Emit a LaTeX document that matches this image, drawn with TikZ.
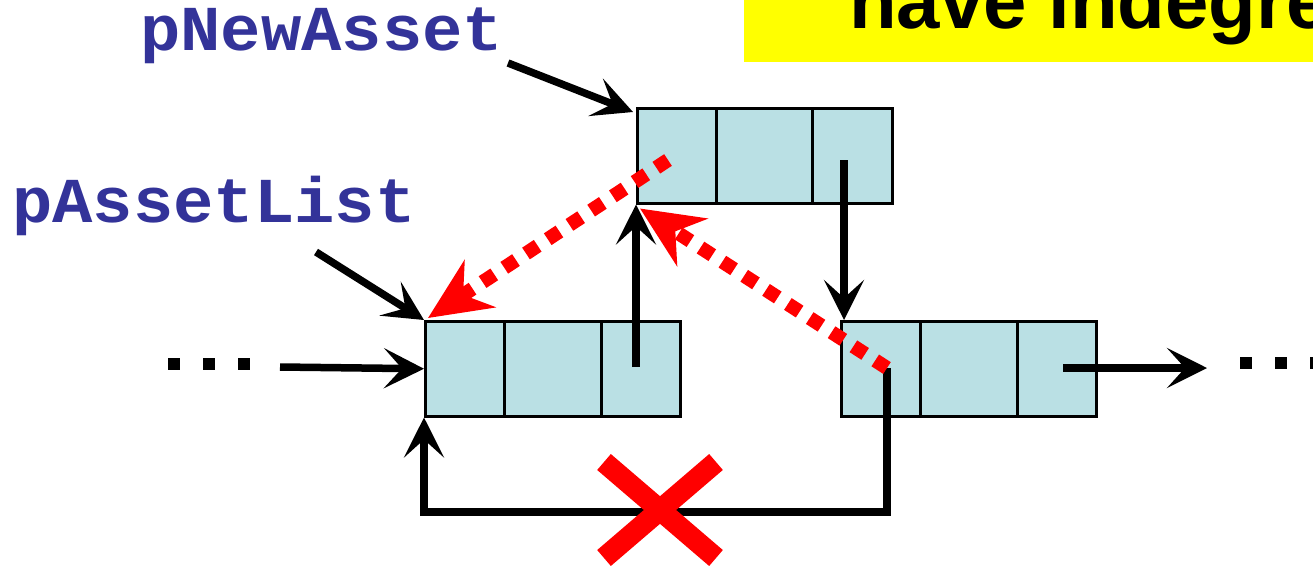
\documentclass[tikz,border=0pt]{standalone}
\usepackage{fontspec}
\usetikzlibrary{arrows.meta,calc}
\newfontfamily\codefont{Liberation Mono}
\newfontfamily\headfont{Liberation Sans}
\definecolor{cellfill}{RGB}{186,224,228}
\definecolor{labelblue}{RGB}{51,51,153}
\definecolor{bannerye}{RGB}{255,255,0}
\tikzset{
  cell/.style={draw=black, line width=2.5pt, fill=cellfill, inner sep=0pt,
    minimum height=95pt, anchor=north west},
  ptr/.style={line width=7.5pt, -{Stealth[length=40pt,width=40pt,inset=18pt]}},
  redptr/.style={draw=red, line width=14pt, dash pattern=on 14pt off 12pt,
    -{Stealth[length=62pt,width=56pt,inset=20pt]}},
  codelabel/.style={font=\codefont\bfseries\fontsize{64}{64}\selectfont,
    text=labelblue, anchor=base west, inner sep=0pt},
  dotsq/.style={fill=black, minimum size=12.5pt, inner sep=0pt}
}
\begin{document}
\begin{tikzpicture}[x=1pt,y=-1pt]
\useasboundingbox (0,0) rectangle (1313,565);
\clip (0,0) rectangle (1313,565);

% heading banner
\fill[bannerye] (744,-5) rectangle (1320,62);
\node[anchor=base west, inner sep=0pt,
  font=\headfont\bfseries\fontsize{78}{78}\selectfont] (head) at (849,28) {have indegree};

% new node
\node[cell, minimum width=79pt] (n1) at (636,107) {};
\node[cell, minimum width=96pt] (n2) at (715,107) {};
\node[cell, minimum width=80pt] (n3) at (811,107) {};
% left node
\node[cell, minimum width=79pt] (l1) at (424,320) {};
\node[cell, minimum width=97pt] (l2) at (503,320) {};
\node[cell, minimum width=79pt] (l3) at (600,320) {};
% right node
\node[cell, minimum width=79pt] (r1) at (840,320) {};
\node[cell, minimum width=97pt] (r2) at (919,320) {};
\node[cell, minimum width=79pt] (r3) at (1016,320) {};

% labels
\node[codelabel] (pnew) at (140,50) {\scalebox{1.05}[1]{pNewAsset}};
\node[codelabel] (plist) at (12,222) {\scalebox{1.05}[1]{pAssetList}};

% ellipses on both sides
\node[dotsq] (dl1) at (174,364) {};
\node[dotsq] (dl2) at (209,364) {};
\node[dotsq] (dl3) at (244,364) {};
\node[dotsq] (dr1) at (1246,363) {};
\node[dotsq] (dr2) at (1281,363) {};
\node[dotsq] (dr3) at (1316,363) {};

% pointer start points
\coordinate (inl) at (280,367);
\coordinate (outr) at (1207,368);
\coordinate (rnext) at (1063,368);
\coordinate (lnext) at (636,367);
\coordinate (nnext) at (844,160);
\coordinate (rprev) at (887,368);
\coordinate (nprev) at (668,160);
\coordinate (pnewend) at (508,63);
\coordinate (plistend) at (316,252);
\coordinate (rtop) at ($(r1.north west)+(4,0)$);

% black pointers
\draw[ptr] (pnewend) -- ($(n1.north west)+(-3,5)$);
\draw[ptr] (plistend) -- (l1.north west);
\draw[ptr] (inl) -- (l1.west);
\draw[ptr] (lnext) -- (n1.south west);
\draw[ptr] (nnext) -- (rtop);
\draw[ptr] (rnext) -- (outr);
\draw[ptr, line join=miter] (rprev) -- (rprev |- 0,512) -- (l1.south west |- 0,512) -- (l1.south west);

% crossed-out link
\coordinate (xc) at (660,510);
\draw[red, line width=21pt] ($(xc)+(-56,-48)$) -- ($(xc)+(56,48)$);
\draw[red, line width=21pt] ($(xc)+(56,-48)$) -- ($(xc)+(-56,48)$);

% new red pointers
\draw[redptr] (nprev) -- ($(l1.north west)+(4,-2)$);
\draw[redptr] (rprev) -- ($(n1.south west)+(4,4)$);
\end{tikzpicture}
\end{document}
